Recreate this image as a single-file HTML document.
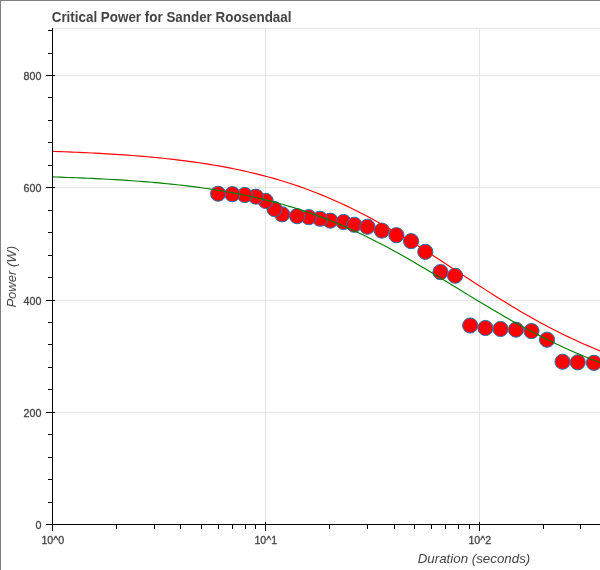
<!DOCTYPE html>
<html><head><meta charset="utf-8"><title>Critical Power</title>
<style>
html,body{margin:0;padding:0;background:#fff;}
body{width:600px;height:570px;overflow:hidden;position:relative;font-family:"Liberation Sans",sans-serif;}
svg{position:absolute;left:0;top:0;display:block;will-change:transform;}
text{font-family:"Liberation Sans",sans-serif;fill:#444444;}
</style></head><body>
<svg width="600" height="570" viewBox="0 0 600 570">
<rect x="0" y="0" width="600" height="570" fill="#ffffff"/>
<g stroke="#e5e5e5" stroke-width="1" shape-rendering="crispEdges">
<line x1="53" x2="600" y1="412.5" y2="412.5"/>
<line x1="53" x2="600" y1="300.5" y2="300.5"/>
<line x1="53" x2="600" y1="187.5" y2="187.5"/>
<line x1="53" x2="600" y1="75.5" y2="75.5"/>
<line x1="265.5" x2="265.5" y1="28" y2="524"/>
<line x1="479.5" x2="479.5" y1="28" y2="524"/>
<line x1="52" x2="600" y1="28.5" y2="28.5"/>
</g>
<g fill="#ff0000" stroke="#1f77b4" stroke-width="1">
<circle cx="593.95" cy="362.85" r="7.6"/>
<circle cx="577.75" cy="362.35" r="7.6"/>
<circle cx="562.55" cy="361.75" r="7.6"/>
<circle cx="547.05" cy="339.75" r="7.6"/>
<circle cx="531.50" cy="331.05" r="7.6"/>
<circle cx="516.00" cy="329.65" r="7.6"/>
<circle cx="500.50" cy="329.00" r="7.6"/>
<circle cx="485.40" cy="328.00" r="7.6"/>
<circle cx="470.20" cy="325.50" r="7.6"/>
<circle cx="440.50" cy="272.05" r="7.6"/>
<circle cx="455.10" cy="275.75" r="7.6"/>
<circle cx="425.30" cy="251.80" r="7.6"/>
<circle cx="411.10" cy="241.15" r="7.6"/>
<circle cx="396.40" cy="235.20" r="7.6"/>
<circle cx="381.80" cy="230.60" r="7.6"/>
<circle cx="330.30" cy="220.65" r="7.6"/>
<circle cx="343.55" cy="222.00" r="7.6"/>
<circle cx="354.25" cy="224.75" r="7.6"/>
<circle cx="367.40" cy="226.75" r="7.6"/>
<circle cx="319.95" cy="218.75" r="7.6"/>
<circle cx="308.75" cy="217.15" r="7.6"/>
<circle cx="297.10" cy="216.15" r="7.6"/>
<circle cx="282.20" cy="214.30" r="7.6"/>
<circle cx="274.50" cy="209.05" r="7.6"/>
<circle cx="265.65" cy="200.95" r="7.6"/>
<circle cx="255.85" cy="196.65" r="7.6"/>
<circle cx="244.80" cy="195.00" r="7.6"/>
<circle cx="232.35" cy="194.20" r="7.6"/>
<circle cx="218.10" cy="193.75" r="7.6"/>
</g>
<path d="M52.00,176.92 L55.97,177.04 L59.94,177.17 L63.91,177.31 L67.88,177.45 L71.86,177.59 L75.83,177.75 L79.80,177.91 L83.77,178.07 L87.74,178.25 L91.71,178.43 L95.68,178.61 L99.65,178.81 L103.63,179.01 L107.60,179.23 L111.57,179.45 L115.54,179.68 L119.51,179.92 L123.48,180.17 L127.45,180.43 L131.42,180.70 L135.40,180.98 L139.37,181.28 L143.34,181.58 L147.31,181.90 L151.28,182.23 L155.25,182.58 L159.22,182.94 L163.19,183.31 L167.17,183.70 L171.14,184.10 L175.11,184.52 L179.08,184.96 L183.05,185.41 L187.02,185.88 L190.99,186.37 L194.96,186.88 L198.94,187.41 L202.91,187.96 L206.88,188.53 L210.85,189.12 L214.82,189.73 L218.79,190.37 L222.76,191.03 L226.73,191.72 L230.71,192.43 L234.68,193.16 L238.65,193.93 L242.62,194.72 L246.59,195.54 L250.56,196.38 L254.53,197.26 L258.50,198.17 L262.47,199.11 L266.45,200.08 L270.42,201.08 L274.39,202.12 L278.36,203.19 L282.33,204.29 L286.30,205.43 L290.27,206.60 L294.24,207.82 L298.22,209.07 L302.19,210.35 L306.16,211.68 L310.13,213.04 L314.10,214.44 L318.07,215.88 L322.04,217.36 L326.01,218.88 L329.99,220.44 L333.96,222.04 L337.93,223.68 L341.90,225.36 L345.87,227.07 L349.84,228.83 L353.81,230.63 L357.78,232.47 L361.76,234.34 L365.73,236.25 L369.70,238.20 L373.67,240.19 L377.64,242.21 L381.61,244.27 L385.58,246.36 L389.55,248.48 L393.53,250.64 L397.50,252.82 L401.47,255.04 L405.44,257.28 L409.41,259.54 L413.38,261.83 L417.35,264.15 L421.32,266.48 L425.29,268.83 L429.27,271.20 L433.24,273.59 L437.21,275.98 L441.18,278.39 L445.15,280.81 L449.12,283.23 L453.09,285.66 L457.06,288.09 L461.04,290.52 L465.01,292.95 L468.98,295.37 L472.95,297.79 L476.92,300.20 L480.89,302.59 L484.86,304.98 L488.83,307.35 L492.81,309.71 L496.78,312.04 L500.75,314.36 L504.72,316.66 L508.69,318.93 L512.66,321.18 L516.63,323.40 L520.60,325.60 L524.58,327.76 L528.55,329.90 L532.52,332.01 L536.49,334.08 L540.46,336.12 L544.43,338.13 L548.40,340.11 L552.37,342.05 L556.35,343.95 L560.32,345.83 L564.29,347.66 L568.26,349.46 L572.23,351.23 L576.20,352.96 L580.17,354.65 L584.14,356.31 L588.12,357.93 L592.09,359.52 L596.06,361.07 L600.03,362.60 L604.00,364.08" fill="none" stroke="#008000" stroke-width="1.15"/>
<path d="M52.00,151.35 L55.97,151.48 L59.94,151.62 L63.91,151.77 L67.88,151.92 L71.86,152.08 L75.83,152.25 L79.80,152.42 L83.77,152.60 L87.74,152.79 L91.71,152.98 L95.68,153.19 L99.65,153.40 L103.63,153.62 L107.60,153.85 L111.57,154.09 L115.54,154.34 L119.51,154.60 L123.48,154.87 L127.45,155.16 L131.42,155.45 L135.40,155.76 L139.37,156.08 L143.34,156.41 L147.31,156.75 L151.28,157.11 L155.25,157.49 L159.22,157.87 L163.19,158.28 L167.17,158.70 L171.14,159.14 L175.11,159.59 L179.08,160.07 L183.05,160.56 L187.02,161.07 L190.99,161.60 L194.96,162.15 L198.94,162.72 L202.91,163.32 L206.88,163.94 L210.85,164.58 L214.82,165.24 L218.79,165.93 L222.76,166.65 L226.73,167.39 L230.71,168.16 L234.68,168.96 L238.65,169.78 L242.62,170.64 L246.59,171.53 L250.56,172.44 L254.53,173.39 L258.50,174.37 L262.47,175.39 L266.45,176.44 L270.42,177.53 L274.39,178.65 L278.36,179.80 L282.33,181.00 L286.30,182.23 L290.27,183.50 L294.24,184.81 L298.22,186.16 L302.19,187.55 L306.16,188.99 L310.13,190.46 L314.10,191.97 L318.07,193.53 L322.04,195.13 L326.01,196.77 L329.99,198.45 L333.96,200.18 L337.93,201.95 L341.90,203.76 L345.87,205.62 L349.84,207.51 L353.81,209.45 L357.78,211.43 L361.76,213.46 L365.73,215.52 L369.70,217.62 L373.67,219.76 L377.64,221.94 L381.61,224.16 L385.58,226.41 L389.55,228.69 L393.53,231.01 L397.50,233.37 L401.47,235.75 L405.44,238.16 L409.41,240.60 L413.38,243.06 L417.35,245.55 L421.32,248.06 L425.29,250.59 L429.27,253.13 L433.24,255.69 L437.21,258.27 L441.18,260.85 L445.15,263.45 L449.12,266.05 L453.09,268.65 L457.06,271.26 L461.04,273.86 L465.01,276.46 L468.98,279.06 L472.95,281.65 L476.92,284.23 L480.89,286.80 L484.86,289.36 L488.83,291.89 L492.81,294.41 L496.78,296.92 L500.75,299.39 L504.72,301.85 L508.69,304.28 L512.66,306.68 L516.63,309.06 L520.60,311.40 L524.58,313.72 L528.55,316.00 L532.52,318.25 L536.49,320.46 L540.46,322.64 L544.43,324.79 L548.40,326.90 L552.37,328.97 L556.35,331.00 L560.32,332.99 L564.29,334.95 L568.26,336.87 L572.23,338.75 L576.20,340.59 L580.17,342.40 L584.14,344.16 L588.12,345.89 L592.09,347.59 L596.06,349.24 L600.03,350.86 L604.00,352.44" fill="none" stroke="#ff0000" stroke-width="1.15"/>
<g stroke="#000000" stroke-width="1" shape-rendering="crispEdges">
<line x1="52.5" x2="52.5" y1="28" y2="525"/>
<line x1="52" x2="600" y1="524.5" y2="524.5"/>
<line x1="46" x2="55" y1="524.5" y2="524.5"/>
<line x1="48" x2="53" y1="502.5" y2="502.5"/>
<line x1="48" x2="53" y1="479.5" y2="479.5"/>
<line x1="48" x2="53" y1="457.5" y2="457.5"/>
<line x1="48" x2="53" y1="434.5" y2="434.5"/>
<line x1="46" x2="55" y1="412.5" y2="412.5"/>
<line x1="48" x2="53" y1="389.5" y2="389.5"/>
<line x1="48" x2="53" y1="367.5" y2="367.5"/>
<line x1="48" x2="53" y1="344.5" y2="344.5"/>
<line x1="48" x2="53" y1="322.5" y2="322.5"/>
<line x1="46" x2="55" y1="300.5" y2="300.5"/>
<line x1="48" x2="53" y1="277.5" y2="277.5"/>
<line x1="48" x2="53" y1="255.5" y2="255.5"/>
<line x1="48" x2="53" y1="232.5" y2="232.5"/>
<line x1="48" x2="53" y1="210.5" y2="210.5"/>
<line x1="46" x2="55" y1="187.5" y2="187.5"/>
<line x1="48" x2="53" y1="165.5" y2="165.5"/>
<line x1="48" x2="53" y1="142.5" y2="142.5"/>
<line x1="48" x2="53" y1="120.5" y2="120.5"/>
<line x1="48" x2="53" y1="97.5" y2="97.5"/>
<line x1="46" x2="55" y1="75.5" y2="75.5"/>
<line x1="48" x2="53" y1="53.5" y2="53.5"/>
<line x1="48" x2="53" y1="30.5" y2="30.5"/>
<line x1="52.5" x2="52.5" y1="522" y2="531"/>
<line x1="116.5" x2="116.5" y1="524" y2="529"/>
<line x1="154.5" x2="154.5" y1="524" y2="529"/>
<line x1="180.5" x2="180.5" y1="524" y2="529"/>
<line x1="201.5" x2="201.5" y1="524" y2="529"/>
<line x1="218.5" x2="218.5" y1="524" y2="529"/>
<line x1="232.5" x2="232.5" y1="524" y2="529"/>
<line x1="245.5" x2="245.5" y1="524" y2="529"/>
<line x1="255.5" x2="255.5" y1="524" y2="529"/>
<line x1="265.5" x2="265.5" y1="522" y2="531"/>
<line x1="329.5" x2="329.5" y1="524" y2="529"/>
<line x1="367.5" x2="367.5" y1="524" y2="529"/>
<line x1="394.5" x2="394.5" y1="524" y2="529"/>
<line x1="414.5" x2="414.5" y1="524" y2="529"/>
<line x1="431.5" x2="431.5" y1="524" y2="529"/>
<line x1="445.5" x2="445.5" y1="524" y2="529"/>
<line x1="458.5" x2="458.5" y1="524" y2="529"/>
<line x1="469.5" x2="469.5" y1="524" y2="529"/>
<line x1="479.5" x2="479.5" y1="522" y2="531"/>
<line x1="543.5" x2="543.5" y1="524" y2="529"/>
<line x1="580.5" x2="580.5" y1="524" y2="529"/>
</g>
<text transform="translate(51.7,21.9) scale(1.006,1.03)" font-size="13.33px" font-weight="bold">Critical Power for Sander Roosendaal</text>
<text x="41.4" y="528.9" font-size="10.67px" text-anchor="end" stroke="#444444" stroke-width="0.3">0</text>
<text x="41.4" y="416.9" font-size="10.67px" text-anchor="end" stroke="#444444" stroke-width="0.3">200</text>
<text x="41.4" y="304.9" font-size="10.67px" text-anchor="end" stroke="#444444" stroke-width="0.3">400</text>
<text x="41.4" y="191.9" font-size="10.67px" text-anchor="end" stroke="#444444" stroke-width="0.3">600</text>
<text x="41.4" y="79.9" font-size="10.67px" text-anchor="end" stroke="#444444" stroke-width="0.3">800</text>
<text x="52.8" y="544" font-size="10.67px" text-anchor="middle" stroke="#444444" stroke-width="0.3">10^0</text>
<text x="265.8" y="544" font-size="10.67px" text-anchor="middle" stroke="#444444" stroke-width="0.3">10^1</text>
<text x="479.8" y="544" font-size="10.67px" text-anchor="middle" stroke="#444444" stroke-width="0.3">10^2</text>
<text x="474" y="563" font-size="13.33px" font-style="italic" text-anchor="middle">Duration (seconds)</text>
<text transform="translate(15.8,276.8) rotate(-90) scale(0.98,1)" font-size="13.33px" font-style="italic" text-anchor="middle">Power (W)</text>
<rect x="0" y="0" width="600" height="1" fill="#808080"/>
<rect x="0" y="0" width="1" height="570" fill="#808080"/>
</svg></body></html>
